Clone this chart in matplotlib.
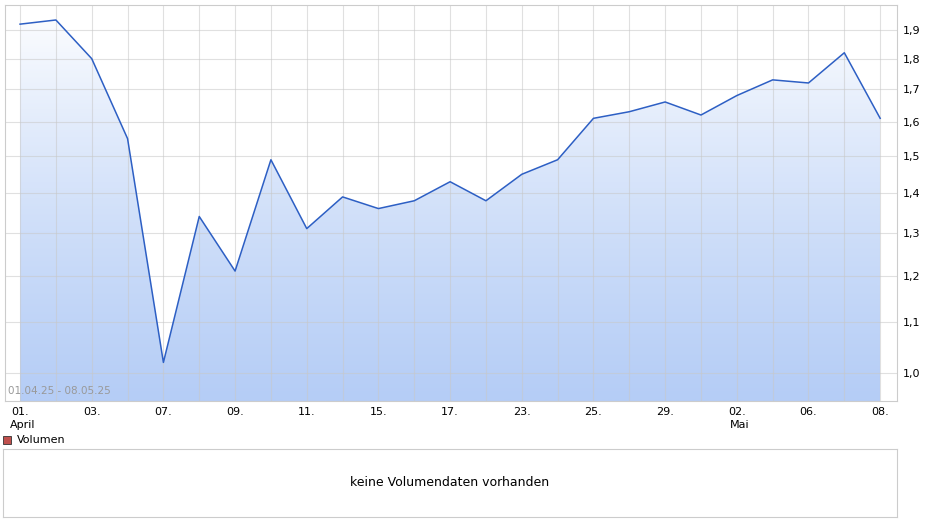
import matplotlib
matplotlib.use("Agg")
import matplotlib.pyplot as plt
import numpy as np
from matplotlib.ticker import FixedLocator, NullLocator
from matplotlib.colors import LinearSegmentedColormap

dates = ["01.","02.","03.","04.","07.","08.","09.","10.","11.","14.","15.","16.","17.","22.","23.","24.","25.","28.","29.","30.","02.","05.","06.","07.","08."]
values = [1.92,1.935,1.80,1.55,1.02,1.34,1.21,1.49,1.31,1.39,1.36,1.38,1.43,1.38,1.45,1.49,1.61,1.63,1.66,1.62,1.68,1.73,1.72,1.82,1.61]
yticks = [1.0,1.1,1.2,1.3,1.4,1.5,1.6,1.7,1.8,1.9]
ytick_labels = ["1,0","1,1","1,2","1,3","1,4","1,5","1,6","1,7","1,8","1,9"]

W, H = 940, 526
fig = plt.figure(figsize=(9.4, 5.26), dpi=100)
ax = fig.add_axes([5/W, 1-401/H, 892/W, 396/H])
x = np.arange(len(values))
ymin, ymax = 0.949, 1.99
ax.set_yscale("log")
ax.set_xlim(-0.42, 24.47)
ax.set_ylim(ymin, ymax)

grad = np.linspace(0, 1, 256).reshape(-1, 1)
cmap = LinearSegmentedColormap.from_list("g", ["#b5cdf6", "#ffffff"])
im = ax.imshow(grad, cmap=cmap, aspect="auto", origin="lower",
               extent=[x[0], x[-1], ymin, ymax], zorder=1)
poly = ax.fill_between(x, values, ymin, color="none")
im.set_clip_path(poly.get_paths()[0], transform=ax.transData)

ax.plot(x, values, color="#2d5fc4", lw=1.1, zorder=3)

for xi in x:
    ax.axvline(xi, color="#c8c8c8", lw=0.8, zorder=2, alpha=0.55)
for yt in yticks:
    ax.axhline(yt, color="#c8c8c8", lw=0.8, zorder=2, alpha=0.55)

ax.yaxis.tick_right()
ax.yaxis.set_major_locator(FixedLocator(yticks))
ax.yaxis.set_minor_locator(NullLocator())
ax.set_yticklabels(ytick_labels, fontsize=8)
ax.set_xticks(x[::2])
ax.set_xticklabels(dates[::2], fontsize=8)
ax.tick_params(length=0, pad=4)
for s in ax.spines.values():
    s.set_color("#cccccc")

fig.text(8/W, 1-396/H, "01.04.25 - 08.05.25", fontsize=7.5, color="#999999", va="bottom")
fig.text(10/W, 1-425/H, "April", fontsize=8, va="center")
fig.text(730/W, 1-425/H, "Mai", fontsize=8, va="center")

fig.patches.append(plt.Rectangle((3/W, 1-444/H), 8/W, 8/H, transform=fig.transFigure,
                                 facecolor="#c0504d", edgecolor="#333333", lw=0.6))
fig.text(17/W, 1-440/H, "Volumen", fontsize=8, va="center")

ax2 = fig.add_axes([3/W, 1-517/H, 894/W, 68/H])
ax2.set_xticks([]); ax2.set_yticks([])
for s in ax2.spines.values():
    s.set_color("#cccccc")
ax2.text(0.5, 0.5, "keine Volumendaten vorhanden", ha="center", va="center",
         fontsize=9, transform=ax2.transAxes)

fig.savefig("out.png", dpi=100)
